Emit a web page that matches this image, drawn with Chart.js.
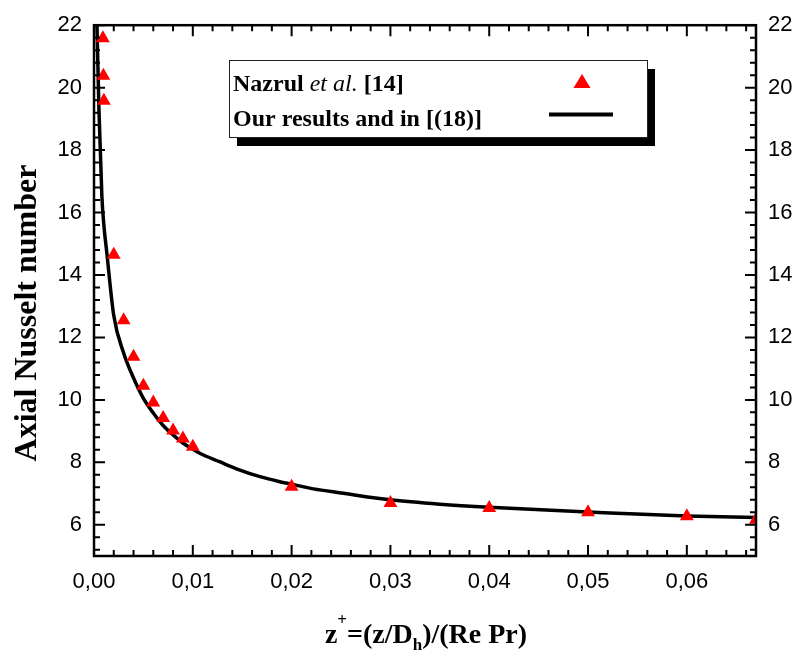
<!DOCTYPE html>
<html>
<head>
<meta charset="utf-8">
<script src="https://cdn.jsdelivr.net/npm/chart.js@4.4.1/dist/chart.umd.min.js"></script>
<style>
  body { margin: 0; background: #fff; }
  #canvasNu { display: block; }
</style>
</head>
<body>
<canvas id="canvasNu" width="796" height="650"></canvas>
<script>
// Nazrul et al. [14] - triangles
var refX = [0.0009, 0.00095, 0.001, 0.002, 0.003, 0.004, 0.005, 0.006, 0.007, 0.008, 0.009, 0.010, 0.02, 0.03, 0.04, 0.05, 0.06, 0.067];
var refNu = [21.58, 20.38, 19.58, 14.65, 12.55, 11.38, 10.45, 9.92, 9.42, 9.02, 8.76, 8.5, 7.22, 6.7, 6.54, 6.4, 6.27, 6.16];

// Our results - solid curve
var curveX = [0.0003, 0.0005, 0.0008, 0.001, 0.0013, 0.002, 0.003, 0.004, 0.005, 0.006, 0.007, 0.008, 0.009, 0.010, 0.0107, 0.0127, 0.0147, 0.0168, 0.0188, 0.02, 0.0222, 0.025, 0.03, 0.035, 0.04, 0.05, 0.06, 0.067];
var curveNu = [22.0, 19.3, 16.5, 15.6, 14.7, 12.7, 11.5, 10.7, 10.05, 9.58, 9.18, 8.88, 8.62, 8.42, 8.29, 8.02, 7.76, 7.54, 7.38, 7.3, 7.15, 7.02, 6.8, 6.66, 6.56, 6.41, 6.28, 6.23];

var xMin = 0, xMax = 0.067, xStep = 0.01, xMinor = 0.002;
var yMin = 5, yMax = 22, yStep = 2, yMinor = 0.4;

var legendLabels = ["Nazrul ", "et al.", " [14]", "Our results and in [(18)]"];
var yTitle = "Axial Nusselt number";

function toPoints(xs, ys) {
    return xs.map(function (x, i) { return { x: x, y: ys[i] }; });
}

function commaLabel(v) {
    return v.toFixed(2).replace(".", ",");
}

var tickFont = { family: "'Liberation Sans', Arial, sans-serif", size: 22 };

// frame, inward ticks, legend and axis titles
var decorPlugin = {
    id: "decor",
    afterDraw: function (chart) {
        var ctx = chart.ctx;
        var a = chart.chartArea;
        var xs = chart.scales.x, ys = chart.scales.y;
        ctx.save();
        ctx.strokeStyle = "#000";
        ctx.lineWidth = 2.5;
        ctx.strokeRect(a.left, a.top, a.right - a.left, a.bottom - a.top);

        ctx.lineWidth = 2;
        var v, px, len, k;
        for (k = 0; ; k++) {
            v = xMin + k * xMinor;
            if (v > xMax + 1e-9) break;
            px = xs.getPixelForValue(v);
            len = (k % 5 === 0) ? 11 : 6;
            ctx.beginPath();
            ctx.moveTo(px, a.bottom); ctx.lineTo(px, a.bottom - len);
            ctx.moveTo(px, a.top); ctx.lineTo(px, a.top + len);
            ctx.stroke();
        }
        for (k = 0; ; k++) {
            v = 4 + k * yMinor;
            if (v > yMax + 1e-9) break;
            if (v < yMin) continue;
            px = ys.getPixelForValue(v);
            len = (Math.abs(v / 2 - Math.round(v / 2)) < 1e-6) ? 11 : 6;
            ctx.beginPath();
            ctx.moveTo(a.left, px); ctx.lineTo(a.left + len, px);
            ctx.moveTo(a.right, px); ctx.lineTo(a.right - len, px);
            ctx.stroke();
        }

        // legend box with shadow
        var bx = 229, by = 60, bw = 418, bh = 77;
        ctx.fillStyle = "#000";
        ctx.fillRect(bx + 8, by + 9, bw, bh);
        ctx.fillStyle = "#fff";
        ctx.fillRect(bx, by, bw, bh);
        ctx.lineWidth = 1;
        ctx.strokeStyle = "#222";
        ctx.strokeRect(bx + 0.5, by + 0.5, bw, bh);

        ctx.fillStyle = "#000";
        ctx.textBaseline = "alphabetic";
        ctx.textAlign = "left";
        var tx = 233;
        ctx.font = "bold 24px 'Liberation Serif', 'Times New Roman', serif";
        ctx.fillText(legendLabels[0], tx, 91);
        tx += ctx.measureText(legendLabels[0]).width;
        ctx.font = "italic 24px 'Liberation Serif', 'Times New Roman', serif";
        ctx.fillText(legendLabels[1], tx, 91);
        tx += ctx.measureText(legendLabels[1]).width;
        ctx.font = "bold 24px 'Liberation Serif', 'Times New Roman', serif";
        ctx.fillText(legendLabels[2], tx, 91);
        ctx.fillText(legendLabels[3], 233, 126);

        ctx.fillStyle = "#ff0000";
        ctx.beginPath();
        ctx.moveTo(582, 74);
        ctx.lineTo(590.5, 88);
        ctx.lineTo(573.5, 88);
        ctx.closePath();
        ctx.fill();

        ctx.strokeStyle = "#000";
        ctx.lineWidth = 4;
        ctx.beginPath();
        ctx.moveTo(549, 114.5);
        ctx.lineTo(613, 114.5);
        ctx.stroke();

        // y title
        ctx.fillStyle = "#000";
        ctx.save();
        ctx.translate(36, 313);
        ctx.rotate(-Math.PI / 2);
        ctx.textAlign = "center";
        ctx.font = "bold 32px 'Liberation Serif', 'Times New Roman', serif";
        ctx.fillText(yTitle, 0, 0);
        ctx.restore();

        // x title: z+=(z/Dh)/(Re Pr)
        var big = "bold 28px 'Liberation Serif', 'Times New Roman', serif";
        var small = "bold 17px 'Liberation Serif', 'Times New Roman', serif";
        var parts = [
            { t: "z", f: big, dy: 0 },
            { t: "+", f: small, dy: -18 },
            { t: "=(z/D", f: big, dy: 0 },
            { t: "h", f: small, dy: 7 },
            { t: ")/(Re Pr)", f: big, dy: 0 }
        ];
        var total = 0;
        parts.forEach(function (p) { ctx.font = p.f; p.w = ctx.measureText(p.t).width; total += p.w; });
        var x0 = 426 - total / 2;
        ctx.textAlign = "left";
        parts.forEach(function (p) {
            ctx.font = p.f;
            ctx.fillText(p.t, x0, 643 + p.dy);
            x0 += p.w;
        });
        ctx.restore();
    }
};

var config = {
    type: "scatter",
    data: {
        datasets: [{
            label: "Nazrul et al. [14]",
            data: toPoints(refX, refNu),
            pointStyle: "triangle",
            pointRadius: 8,
            pointBackgroundColor: "#ff0000",
            pointBorderWidth: 0,
            showLine: false
        }, {
            label: "Our results and in [(18)]",
            data: toPoints(curveX, curveNu),
            showLine: true,
            borderColor: "#000",
            borderWidth: 3.5,
            pointRadius: 0,
            cubicInterpolationMode: "monotone",
            fill: false
        }]
    },
    options: {
        responsive: false,
        animation: false,
        events: [],
        layout: { padding: { top: 21, left: 0, right: 0, bottom: 0 } },
        plugins: {
            legend: { display: false },
            tooltip: { enabled: false },
            title: { display: false }
        },
        scales: {
            x: {
                type: "linear",
                position: "bottom",
                min: xMin,
                max: xMax,
                grid: { display: false, drawTicks: false },
                border: { display: false },
                ticks: {
                    stepSize: xStep,
                    includeBounds: false,
                    autoSkip: false,
                    maxRotation: 0,
                    padding: 13,
                    color: "#000",
                    font: tickFont,
                    callback: function (v) { return commaLabel(v); }
                },
                afterFit: function (s) { s.height = 94; }
            },
            y: {
                type: "linear",
                position: "left",
                min: yMin,
                max: yMax,
                grid: { display: false, drawTicks: false },
                border: { display: false },
                ticks: {
                    stepSize: yStep,
                    includeBounds: false,
                    padding: 12,
                    color: "#000",
                    font: tickFont
                },
                afterFit: function (s) { s.width = 94; }
            },
            y2: {
                type: "linear",
                position: "right",
                min: yMin,
                max: yMax,
                grid: { display: false, drawTicks: false },
                border: { display: false },
                ticks: {
                    stepSize: yStep,
                    includeBounds: false,
                    padding: 12,
                    color: "#000",
                    font: tickFont
                },
                afterFit: function (s) { s.width = 40; }
            }
        }
    },
    plugins: [decorPlugin]
};

var graphNu = new Chart(document.getElementById("canvasNu").getContext("2d"), config);
</script>
</body>
</html>
